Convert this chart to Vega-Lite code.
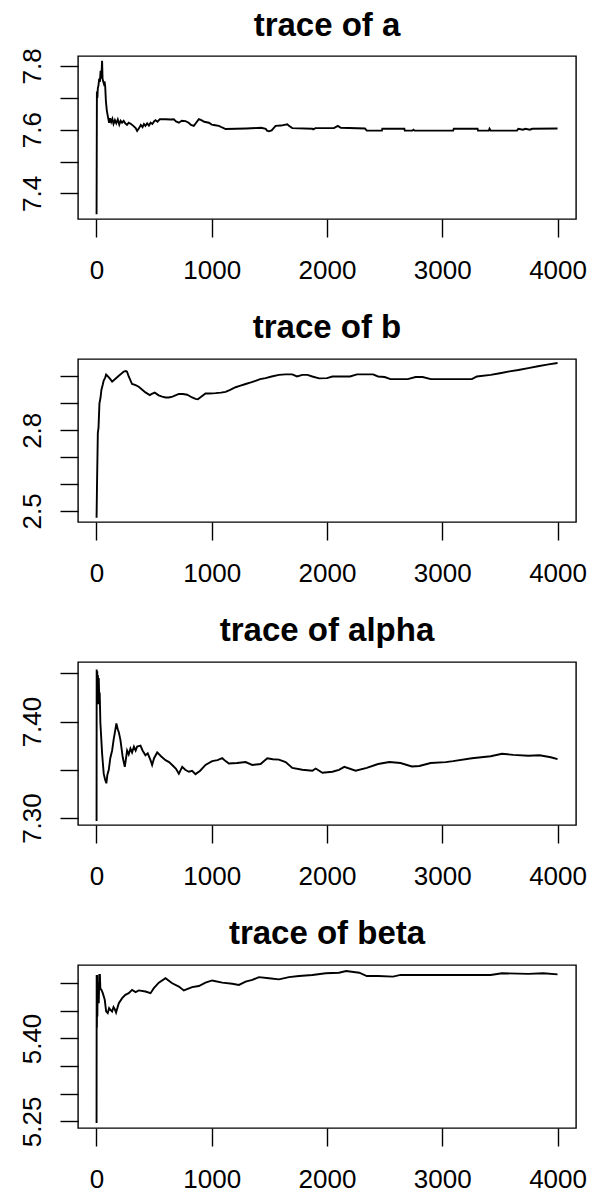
{
  "$schema": "https://vega.github.io/schema/vega-lite/v6.json",
  "padding": {"left": 18, "top": 9, "right": 0, "bottom": 0},
  "background": "white",
  "config": {
    "font": "Liberation Sans",
    "view": {"stroke": "black", "strokeWidth": 1.4},
    "axis": {"domain": false, "grid": false, "ticks": true, "tickColor": "black", "tickWidth": 1.4, "tickSize": 18, "labelColor": "black", "labelFont": "Liberation Sans", "labelFontSize": 26, "title": null, "labelFlush": false, "labelOverlap": false},
    "axisX": {"labelPadding": 20, "labelAngle": 0},
    "axisY": {"labelPadding": 15, "labelAngle": -90},
    "title": {"font": "Liberation Sans", "fontSize": 33, "fontWeight": "bold", "color": "black", "anchor": "middle", "baseline": "alphabetic", "offset": 14},
    "line": {"color": "black", "strokeWidth": 1.9}
  },
  "datasets": {
    "a": [
      {"t":1,"v":7.335},{"t":4,"v":7.72},{"t":8,"v":7.70},{"t":12,"v":7.73},{"t":18,"v":7.74},{"t":24,"v":7.76},{"t":30,"v":7.75},{"t":36,"v":7.785},{"t":42,"v":7.76},{"t":49,"v":7.816},{"t":53,"v":7.76},{"t":58,"v":7.752},{"t":64,"v":7.745},{"t":70,"v":7.752},{"t":76,"v":7.735},{"t":82,"v":7.69},{"t":90,"v":7.66},{"t":101,"v":7.638},{"t":110,"v":7.622},{"t":118,"v":7.636},{"t":128,"v":7.624},{"t":138,"v":7.634},{"t":148,"v":7.618},{"t":160,"v":7.63},{"t":172,"v":7.62},{"t":185,"v":7.632},{"t":198,"v":7.616},{"t":210,"v":7.628},{"t":222,"v":7.622},{"t":236,"v":7.628},{"t":250,"v":7.62},{"t":265,"v":7.615},{"t":280,"v":7.622},{"t":300,"v":7.618},{"t":320,"v":7.612},{"t":340,"v":7.605},{"t":353,"v":7.596},{"t":370,"v":7.605},{"t":385,"v":7.615},{"t":400,"v":7.608},{"t":412,"v":7.618},{"t":425,"v":7.612},{"t":440,"v":7.62},{"t":455,"v":7.613},{"t":470,"v":7.622},{"t":485,"v":7.618},{"t":500,"v":7.626},{"t":512,"v":7.63},{"t":530,"v":7.625},{"t":550,"v":7.633},{"t":600,"v":7.633},{"t":640,"v":7.632},{"t":671,"v":7.633},{"t":690,"v":7.626},{"t":715,"v":7.622},{"t":740,"v":7.628},{"t":773,"v":7.627},{"t":800,"v":7.622},{"t":820,"v":7.615},{"t":845,"v":7.612},{"t":865,"v":7.622},{"t":888,"v":7.633},{"t":910,"v":7.63},{"t":935,"v":7.625},{"t":975,"v":7.622},{"t":1000,"v":7.616},{"t":1030,"v":7.614},{"t":1062,"v":7.612},{"t":1090,"v":7.607},{"t":1120,"v":7.602},{"t":1300,"v":7.604},{"t":1430,"v":7.606},{"t":1468,"v":7.603},{"t":1480,"v":7.597},{"t":1496,"v":7.595},{"t":1520,"v":7.598},{"t":1554,"v":7.612},{"t":1600,"v":7.613},{"t":1656,"v":7.617},{"t":1670,"v":7.612},{"t":1699,"v":7.605},{"t":1873,"v":7.603},{"t":1880,"v":7.601},{"t":1900,"v":7.605},{"t":2060,"v":7.605},{"t":2094,"v":7.612},{"t":2120,"v":7.606},{"t":2329,"v":7.604},{"t":2345,"v":7.597},{"t":2476,"v":7.597},{"t":2480,"v":7.603},{"t":2671,"v":7.603},{"t":2675,"v":7.597},{"t":2740,"v":7.597},{"t":2750,"v":7.6},{"t":2760,"v":7.597},{"t":3094,"v":7.597},{"t":3100,"v":7.603},{"t":3306,"v":7.603},{"t":3310,"v":7.597},{"t":3404,"v":7.597},{"t":3410,"v":7.603},{"t":3420,"v":7.597},{"t":3648,"v":7.597},{"t":3660,"v":7.603},{"t":3700,"v":7.6},{"t":3720,"v":7.603},{"t":3760,"v":7.6},{"t":3780,"v":7.603},{"t":4000,"v":7.604}
    ],
    "b": [
      {"t":1,"v":2.475},{"t":5,"v":2.6},{"t":12,"v":2.79},{"t":18,"v":2.81},{"t":26,"v":2.9},{"t":35,"v":2.92},{"t":43,"v":2.95},{"t":55,"v":2.97},{"t":63,"v":2.985},{"t":75,"v":2.995},{"t":84,"v":3.007},{"t":100,"v":3.0},{"t":120,"v":2.99},{"t":136,"v":2.981},{"t":160,"v":2.99},{"t":194,"v":3.003},{"t":215,"v":3.01},{"t":237,"v":3.018},{"t":255,"v":3.02},{"t":265,"v":3.018},{"t":280,"v":3.0},{"t":309,"v":2.972},{"t":340,"v":2.968},{"t":367,"v":2.962},{"t":400,"v":2.95},{"t":425,"v":2.941},{"t":463,"v":2.931},{"t":480,"v":2.935},{"t":506,"v":2.94},{"t":540,"v":2.93},{"t":570,"v":2.925},{"t":600,"v":2.922},{"t":628,"v":2.922},{"t":660,"v":2.925},{"t":715,"v":2.935},{"t":750,"v":2.935},{"t":787,"v":2.932},{"t":830,"v":2.922},{"t":859,"v":2.917},{"t":880,"v":2.915},{"t":900,"v":2.922},{"t":946,"v":2.937},{"t":980,"v":2.937},{"t":1033,"v":2.938},{"t":1080,"v":2.94},{"t":1120,"v":2.943},{"t":1160,"v":2.95},{"t":1207,"v":2.96},{"t":1250,"v":2.966},{"t":1294,"v":2.972},{"t":1340,"v":2.978},{"t":1380,"v":2.984},{"t":1420,"v":2.99},{"t":1467,"v":2.994},{"t":1520,"v":3.0},{"t":1583,"v":3.006},{"t":1640,"v":3.008},{"t":1699,"v":3.008},{"t":1740,"v":3.0},{"t":1786,"v":3.006},{"t":1830,"v":3.006},{"t":1873,"v":3.0},{"t":1931,"v":2.993},{"t":2000,"v":2.994},{"t":2047,"v":3.0},{"t":2200,"v":3.0},{"t":2260,"v":3.008},{"t":2400,"v":3.008},{"t":2443,"v":3.0},{"t":2500,"v":2.998},{"t":2550,"v":2.99},{"t":2700,"v":2.99},{"t":2769,"v":2.998},{"t":2830,"v":2.998},{"t":2900,"v":2.99},{"t":3257,"v":2.99},{"t":3300,"v":3.0},{"t":3420,"v":3.006},{"t":3500,"v":3.012},{"t":3583,"v":3.019},{"t":3660,"v":3.024},{"t":3746,"v":3.031},{"t":3830,"v":3.038},{"t":3909,"v":3.044},{"t":4000,"v":3.05}
    ],
    "alpha": [
      {"t":1,"v":7.297},{"t":2,"v":7.454},{"t":4,"v":7.43},{"t":7,"v":7.452},{"t":10,"v":7.42},{"t":13,"v":7.448},{"t":16,"v":7.418},{"t":20,"v":7.445},{"t":24,"v":7.425},{"t":28,"v":7.43},{"t":32,"v":7.41},{"t":34,"v":7.399},{"t":49,"v":7.367},{"t":63,"v":7.346},{"t":75,"v":7.34},{"t":86,"v":7.336},{"t":95,"v":7.345},{"t":107,"v":7.35},{"t":120,"v":7.362},{"t":136,"v":7.37},{"t":150,"v":7.382},{"t":159,"v":7.388},{"t":173,"v":7.398},{"t":185,"v":7.392},{"t":194,"v":7.389},{"t":208,"v":7.381},{"t":228,"v":7.363},{"t":246,"v":7.353},{"t":266,"v":7.37},{"t":280,"v":7.366},{"t":295,"v":7.372},{"t":309,"v":7.368},{"t":325,"v":7.374},{"t":340,"v":7.37},{"t":353,"v":7.374},{"t":382,"v":7.375},{"t":400,"v":7.37},{"t":425,"v":7.365},{"t":445,"v":7.367},{"t":469,"v":7.36},{"t":483,"v":7.355},{"t":500,"v":7.362},{"t":527,"v":7.368},{"t":560,"v":7.364},{"t":599,"v":7.36},{"t":630,"v":7.358},{"t":657,"v":7.355},{"t":690,"v":7.351},{"t":715,"v":7.346},{"t":744,"v":7.353},{"t":770,"v":7.35},{"t":802,"v":7.348},{"t":830,"v":7.349},{"t":859,"v":7.3455},{"t":900,"v":7.349},{"t":946,"v":7.355},{"t":1004,"v":7.359},{"t":1050,"v":7.36},{"t":1091,"v":7.362},{"t":1120,"v":7.359},{"t":1149,"v":7.3565},{"t":1220,"v":7.357},{"t":1294,"v":7.358},{"t":1352,"v":7.355},{"t":1424,"v":7.356},{"t":1482,"v":7.362},{"t":1530,"v":7.361},{"t":1583,"v":7.3606},{"t":1641,"v":7.358},{"t":1699,"v":7.352},{"t":1786,"v":7.35},{"t":1873,"v":7.349},{"t":1902,"v":7.3513},{"t":1960,"v":7.347},{"t":2047,"v":7.348},{"t":2104,"v":7.35},{"t":2150,"v":7.353},{"t":2248,"v":7.349},{"t":2345,"v":7.352},{"t":2443,"v":7.356},{"t":2541,"v":7.358},{"t":2638,"v":7.357},{"t":2736,"v":7.3534},{"t":2801,"v":7.354},{"t":2899,"v":7.357},{"t":3029,"v":7.358},{"t":3094,"v":7.359},{"t":3257,"v":7.362},{"t":3420,"v":7.364},{"t":3518,"v":7.3666},{"t":3616,"v":7.3655},{"t":3746,"v":7.3645},{"t":3844,"v":7.365},{"t":3941,"v":7.363},{"t":4000,"v":7.361}
    ],
    "beta": [
      {"t":1,"v":5.247},{"t":2,"v":5.515},{"t":4,"v":5.42},{"t":6,"v":5.515},{"t":8,"v":5.44},{"t":11,"v":5.5},{"t":20,"v":5.464},{"t":25,"v":5.515},{"t":30,"v":5.515},{"t":34,"v":5.49},{"t":43,"v":5.488},{"t":55,"v":5.482},{"t":72,"v":5.47},{"t":84,"v":5.449},{"t":98,"v":5.446},{"t":110,"v":5.455},{"t":121,"v":5.452},{"t":136,"v":5.449},{"t":148,"v":5.457},{"t":159,"v":5.453},{"t":170,"v":5.447},{"t":194,"v":5.464},{"t":223,"v":5.473},{"t":251,"v":5.479},{"t":280,"v":5.482},{"t":309,"v":5.488},{"t":340,"v":5.484},{"t":367,"v":5.487},{"t":425,"v":5.485},{"t":469,"v":5.482},{"t":498,"v":5.491},{"t":541,"v":5.501},{"t":599,"v":5.509},{"t":657,"v":5.5},{"t":715,"v":5.494},{"t":758,"v":5.487},{"t":830,"v":5.493},{"t":888,"v":5.495},{"t":946,"v":5.501},{"t":1004,"v":5.505},{"t":1091,"v":5.501},{"t":1178,"v":5.499},{"t":1236,"v":5.497},{"t":1294,"v":5.503},{"t":1352,"v":5.506},{"t":1410,"v":5.511},{"t":1496,"v":5.509},{"t":1583,"v":5.507},{"t":1670,"v":5.511},{"t":1757,"v":5.513},{"t":1873,"v":5.515},{"t":1989,"v":5.518},{"t":2104,"v":5.519},{"t":2166,"v":5.522},{"t":2280,"v":5.519},{"t":2345,"v":5.513},{"t":2443,"v":5.513},{"t":2573,"v":5.512},{"t":2638,"v":5.515},{"t":3420,"v":5.515},{"t":3518,"v":5.518},{"t":3746,"v":5.517},{"t":3876,"v":5.518},{"t":4000,"v":5.516}
    ]
  },
  "spacing": 140,
  "bounds": "flush",
  "vconcat": [
    {
      "title": {"text": "trace of a", "offset": 5},
      "width": 498, "height": 163,
      "data": {"name": "a"},
      "mark": {"type": "line", "clip": true},
      "encoding": {
        "x": {"field": "t", "type": "quantitative", "scale": {"domain": [-160, 4160], "nice": false, "zero": false}, "axis": {"values": [0, 1000, 2000, 3000, 4000], "format": "d"}},
        "y": {"field": "v", "type": "quantitative", "scale": {"domain": [7.3198, 7.8313], "nice": false, "zero": false}, "axis": {"values": [7.4, 7.5, 7.6, 7.7, 7.8], "labelExpr": "datum.value === 7.5 || datum.value === 7.7 ? '' : format(datum.value, '.1f')"}}
      }
    },
    {
      "title": "trace of b",
      "width": 498, "height": 163,
      "data": {"name": "b"},
      "mark": {"type": "line", "clip": true},
      "encoding": {
        "x": {"field": "t", "type": "quantitative", "scale": {"domain": [-160, 4160], "nice": false, "zero": false}, "axis": {"values": [0, 1000, 2000, 3000, 4000], "format": "d"}},
        "y": {"field": "v", "type": "quantitative", "scale": {"domain": [2.459, 3.065], "nice": false, "zero": false}, "axis": {"values": [2.5, 2.6, 2.7, 2.8, 2.9, 3.0], "labelExpr": "datum.value === 2.5 || datum.value === 2.8 ? format(datum.value, '.1f') : ''"}}
      }
    },
    {
      "title": "trace of alpha",
      "width": 498, "height": 163,
      "data": {"name": "alpha"},
      "mark": {"type": "line", "clip": true},
      "encoding": {
        "x": {"field": "t", "type": "quantitative", "scale": {"domain": [-160, 4160], "nice": false, "zero": false}, "axis": {"values": [0, 1000, 2000, 3000, 4000], "format": "d"}},
        "y": {"field": "v", "type": "quantitative", "scale": {"domain": [7.2928, 7.4617], "nice": false, "zero": false}, "axis": {"values": [7.3, 7.35, 7.4, 7.45], "labelExpr": "datum.value === 7.3 || datum.value === 7.4 ? format(datum.value, '.2f') : ''"}}
      }
    },
    {
      "title": "trace of beta",
      "width": 498, "height": 163,
      "data": {"name": "beta"},
      "mark": {"type": "line", "clip": true},
      "encoding": {
        "x": {"field": "t", "type": "quantitative", "scale": {"domain": [-160, 4160], "nice": false, "zero": false}, "axis": {"values": [0, 1000, 2000, 3000, 4000], "format": "d"}},
        "y": {"field": "v", "type": "quantitative", "scale": {"domain": [5.238, 5.533], "nice": false, "zero": false}, "axis": {"values": [5.25, 5.3, 5.35, 5.4, 5.45, 5.5], "labelExpr": "datum.value === 5.25 || datum.value === 5.4 ? format(datum.value, '.2f') : ''"}}
      }
    }
  ]
}
